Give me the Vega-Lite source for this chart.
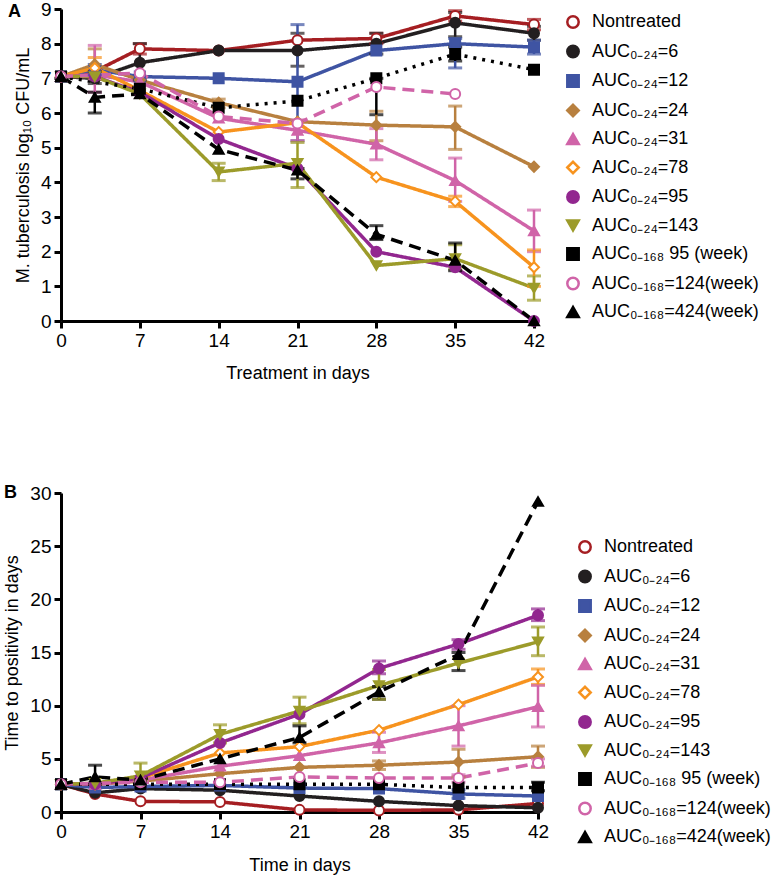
{
  "$schema": "https://vega.github.io/schema/vega-lite/v6.json",
  "padding": {"left": 3, "top": 0, "right": 3, "bottom": 3},
  "background": "white",
  "config": {
    "font": "Liberation Sans",
    "view": {"stroke": null},
    "axis": {"domainColor": "black", "domainWidth": 3, "tickColor": "black", "tickWidth": 3, "tickSize": 7, "labelFontSize": 19, "labelColor": "black", "labelPadding": 3, "labelOverlap": false, "titleFontSize": 18, "titleFontWeight": "normal", "titleColor": "black", "grid": false, "labelFlush": false},
    "axisY": {"titlePadding": 8},
    "legend": {"symbolStrokeWidth": 2.5, "labelFontSize": 18, "labelColor": "black", "rowPadding": 7.5, "labelOffset": 10, "symbolSize": 130, "padding": 0, "labelLimit": 300}
  },
  "datasets": {
    "a": [
      {"g":"Nontreated","day":0,"v":7.05},{"g":"Nontreated","day":3,"v":7.2},{"g":"Nontreated","day":7,"v":7.85},{"g":"Nontreated","day":14,"v":7.8},{"g":"Nontreated","day":21,"v":8.1},{"g":"Nontreated","day":28,"v":8.15},{"g":"Nontreated","day":35,"v":8.8},{"g":"Nontreated","day":42,"v":8.55},
      {"g":"AUC₀₋₂₄=6","day":0,"v":7.05},{"g":"AUC₀₋₂₄=6","day":3,"v":7.0},{"g":"AUC₀₋₂₄=6","day":7,"v":7.45},{"g":"AUC₀₋₂₄=6","day":14,"v":7.8},{"g":"AUC₀₋₂₄=6","day":21,"v":7.8},{"g":"AUC₀₋₂₄=6","day":28,"v":8.0},{"g":"AUC₀₋₂₄=6","day":35,"v":8.6},{"g":"AUC₀₋₂₄=6","day":42,"v":8.3},
      {"g":"AUC₀₋₂₄=12","day":0,"v":7.05},{"g":"AUC₀₋₂₄=12","day":3,"v":7.25},{"g":"AUC₀₋₂₄=12","day":7,"v":7.05},{"g":"AUC₀₋₂₄=12","day":14,"v":7.0},{"g":"AUC₀₋₂₄=12","day":21,"v":6.9},{"g":"AUC₀₋₂₄=12","day":28,"v":7.8},{"g":"AUC₀₋₂₄=12","day":35,"v":8.0},{"g":"AUC₀₋₂₄=12","day":42,"v":7.9},
      {"g":"AUC₀₋₂₄=24","day":0,"v":7.05},{"g":"AUC₀₋₂₄=24","day":3,"v":7.4},{"g":"AUC₀₋₂₄=24","day":7,"v":6.95},{"g":"AUC₀₋₂₄=24","day":14,"v":6.3},{"g":"AUC₀₋₂₄=24","day":21,"v":5.75},{"g":"AUC₀₋₂₄=24","day":28,"v":5.65},{"g":"AUC₀₋₂₄=24","day":35,"v":5.6},{"g":"AUC₀₋₂₄=24","day":42,"v":4.45},
      {"g":"AUC₀₋₂₄=31","day":0,"v":7.05},{"g":"AUC₀₋₂₄=31","day":3,"v":7.1},{"g":"AUC₀₋₂₄=31","day":7,"v":6.9},{"g":"AUC₀₋₂₄=31","day":14,"v":5.85},{"g":"AUC₀₋₂₄=31","day":21,"v":5.5},{"g":"AUC₀₋₂₄=31","day":28,"v":5.1},{"g":"AUC₀₋₂₄=31","day":35,"v":4.05},{"g":"AUC₀₋₂₄=31","day":42,"v":2.6},
      {"g":"AUC₀₋₂₄=78","day":0,"v":7.05},{"g":"AUC₀₋₂₄=78","day":3,"v":7.3},{"g":"AUC₀₋₂₄=78","day":7,"v":6.65},{"g":"AUC₀₋₂₄=78","day":14,"v":5.45},{"g":"AUC₀₋₂₄=78","day":21,"v":5.72},{"g":"AUC₀₋₂₄=78","day":28,"v":4.15},{"g":"AUC₀₋₂₄=78","day":35,"v":3.45},{"g":"AUC₀₋₂₄=78","day":42,"v":1.55},
      {"g":"AUC₀₋₂₄=95","day":0,"v":7.05},{"g":"AUC₀₋₂₄=95","day":3,"v":7.05},{"g":"AUC₀₋₂₄=95","day":7,"v":6.6},{"g":"AUC₀₋₂₄=95","day":14,"v":5.25},{"g":"AUC₀₋₂₄=95","day":21,"v":4.4},{"g":"AUC₀₋₂₄=95","day":28,"v":2.0},{"g":"AUC₀₋₂₄=95","day":35,"v":1.55},{"g":"AUC₀₋₂₄=95","day":42,"v":0.0},
      {"g":"AUC₀₋₂₄=143","day":0,"v":7.05},{"g":"AUC₀₋₂₄=143","day":3,"v":7.05},{"g":"AUC₀₋₂₄=143","day":7,"v":6.55},{"g":"AUC₀₋₂₄=143","day":14,"v":4.3},{"g":"AUC₀₋₂₄=143","day":21,"v":4.55},{"g":"AUC₀₋₂₄=143","day":28,"v":1.6},{"g":"AUC₀₋₂₄=143","day":35,"v":1.8},{"g":"AUC₀₋₂₄=143","day":42,"v":0.95},
      {"g":"AUC₀₋₁₆₈ 95 (week)","day":0,"v":7.05},{"g":"AUC₀₋₁₆₈ 95 (week)","day":7,"v":6.7},{"g":"AUC₀₋₁₆₈ 95 (week)","day":14,"v":6.15},{"g":"AUC₀₋₁₆₈ 95 (week)","day":21,"v":6.35},{"g":"AUC₀₋₁₆₈ 95 (week)","day":28,"v":7.0},{"g":"AUC₀₋₁₆₈ 95 (week)","day":35,"v":7.7},{"g":"AUC₀₋₁₆₈ 95 (week)","day":42,"v":7.25},
      {"g":"AUC₀₋₁₆₈=124(week)","day":0,"v":7.05},{"g":"AUC₀₋₁₆₈=124(week)","day":7,"v":7.15},{"g":"AUC₀₋₁₆₈=124(week)","day":14,"v":5.9},{"g":"AUC₀₋₁₆₈=124(week)","day":21,"v":5.7},{"g":"AUC₀₋₁₆₈=124(week)","day":28,"v":6.75},{"g":"AUC₀₋₁₆₈=124(week)","day":35,"v":6.55},
      {"g":"AUC₀₋₁₆₈=424(week)","day":0,"v":7.05},{"g":"AUC₀₋₁₆₈=424(week)","day":3,"v":6.45},{"g":"AUC₀₋₁₆₈=424(week)","day":7,"v":6.55},{"g":"AUC₀₋₁₆₈=424(week)","day":14,"v":4.95},{"g":"AUC₀₋₁₆₈=424(week)","day":21,"v":4.35},{"g":"AUC₀₋₁₆₈=424(week)","day":28,"v":2.5},{"g":"AUC₀₋₁₆₈=424(week)","day":35,"v":1.75},{"g":"AUC₀₋₁₆₈=424(week)","day":42,"v":0.0}
    ],
    "aErr": [
      {"g":"Nontreated","day":7,"lo":7.7,"hi":8.0},{"g":"Nontreated","day":28,"lo":8.0,"hi":8.3},{"g":"Nontreated","day":35,"lo":8.65,"hi":8.95},{"g":"Nontreated","day":42,"lo":8.4,"hi":8.7},
      {"g":"AUC₀₋₂₄=6","day":3,"lo":6.85,"hi":7.2},{"g":"AUC₀₋₂₄=6","day":7,"lo":6.95,"hi":8.0},{"g":"AUC₀₋₂₄=6","day":21,"lo":7.35,"hi":8.3},{"g":"AUC₀₋₂₄=6","day":28,"lo":7.7,"hi":8.3},{"g":"AUC₀₋₂₄=6","day":35,"lo":8.2,"hi":8.9},{"g":"AUC₀₋₂₄=6","day":42,"lo":8.1,"hi":8.5},
      {"g":"AUC₀₋₂₄=12","day":3,"lo":7.1,"hi":7.4},{"g":"AUC₀₋₂₄=12","day":21,"lo":5.2,"hi":8.55},{"g":"AUC₀₋₂₄=12","day":35,"lo":7.3,"hi":8.15},{"g":"AUC₀₋₂₄=12","day":42,"lo":7.7,"hi":8.1},
      {"g":"AUC₀₋₂₄=24","day":3,"lo":7.0,"hi":7.85},{"g":"AUC₀₋₂₄=24","day":14,"lo":6.15,"hi":6.4},{"g":"AUC₀₋₂₄=24","day":28,"lo":5.2,"hi":6.05},{"g":"AUC₀₋₂₄=24","day":35,"lo":4.95,"hi":6.2},
      {"g":"AUC₀₋₂₄=31","day":3,"lo":6.6,"hi":7.95},{"g":"AUC₀₋₂₄=31","day":21,"lo":5.2,"hi":5.8},{"g":"AUC₀₋₂₄=31","day":28,"lo":4.65,"hi":5.55},{"g":"AUC₀₋₂₄=31","day":35,"lo":3.45,"hi":4.7},{"g":"AUC₀₋₂₄=31","day":42,"lo":2.0,"hi":3.2},
      {"g":"AUC₀₋₂₄=78","day":3,"lo":7.2,"hi":7.6},{"g":"AUC₀₋₂₄=78","day":35,"lo":3.3,"hi":3.6},{"g":"AUC₀₋₂₄=78","day":42,"lo":1.0,"hi":2.05},
      {"g":"AUC₀₋₂₄=143","day":14,"lo":4.05,"hi":4.55},{"g":"AUC₀₋₂₄=143","day":21,"lo":3.85,"hi":5.15},{"g":"AUC₀₋₂₄=143","day":35,"lo":1.5,"hi":2.2},{"g":"AUC₀₋₂₄=143","day":42,"lo":0.6,"hi":1.3},
      {"g":"AUC₀₋₁₆₈ 95 (week)","day":28,"lo":5.95,"hi":7.0},{"g":"AUC₀₋₁₆₈ 95 (week)","day":35,"lo":7.5,"hi":7.9},
      {"g":"AUC₀₋₁₆₈=424(week)","day":3,"lo":6.0,"hi":6.6},{"g":"AUC₀₋₁₆₈=424(week)","day":21,"lo":4.1,"hi":4.4},{"g":"AUC₀₋₁₆₈=424(week)","day":28,"lo":2.35,"hi":2.75},{"g":"AUC₀₋₁₆₈=424(week)","day":35,"lo":1.45,"hi":2.25}
    ],
    "b": [
      {"g":"Nontreated","day":0,"v":2.6},{"g":"Nontreated","day":3,"v":1.7},{"g":"Nontreated","day":7,"v":1.0},{"g":"Nontreated","day":14,"v":0.95},{"g":"Nontreated","day":21,"v":0.2},{"g":"Nontreated","day":28,"v":0.15},{"g":"Nontreated","day":35,"v":0.2},{"g":"Nontreated","day":42,"v":0.8},
      {"g":"AUC₀₋₂₄=6","day":0,"v":2.6},{"g":"AUC₀₋₂₄=6","day":3,"v":1.8},{"g":"AUC₀₋₂₄=6","day":7,"v":2.2},{"g":"AUC₀₋₂₄=6","day":14,"v":2.05},{"g":"AUC₀₋₂₄=6","day":21,"v":1.5},{"g":"AUC₀₋₂₄=6","day":28,"v":1.0},{"g":"AUC₀₋₂₄=6","day":35,"v":0.6},{"g":"AUC₀₋₂₄=6","day":42,"v":0.4},
      {"g":"AUC₀₋₂₄=12","day":0,"v":2.6},{"g":"AUC₀₋₂₄=12","day":3,"v":2.3},{"g":"AUC₀₋₂₄=12","day":7,"v":2.4},{"g":"AUC₀₋₂₄=12","day":14,"v":2.5},{"g":"AUC₀₋₂₄=12","day":21,"v":2.25},{"g":"AUC₀₋₂₄=12","day":28,"v":2.2},{"g":"AUC₀₋₂₄=12","day":35,"v":1.7},{"g":"AUC₀₋₂₄=12","day":42,"v":1.5},
      {"g":"AUC₀₋₂₄=24","day":0,"v":2.6},{"g":"AUC₀₋₂₄=24","day":3,"v":2.6},{"g":"AUC₀₋₂₄=24","day":7,"v":2.9},{"g":"AUC₀₋₂₄=24","day":14,"v":3.6},{"g":"AUC₀₋₂₄=24","day":21,"v":4.2},{"g":"AUC₀₋₂₄=24","day":28,"v":4.4},{"g":"AUC₀₋₂₄=24","day":35,"v":4.7},{"g":"AUC₀₋₂₄=24","day":42,"v":5.2},
      {"g":"AUC₀₋₂₄=31","day":0,"v":2.6},{"g":"AUC₀₋₂₄=31","day":3,"v":2.6},{"g":"AUC₀₋₂₄=31","day":7,"v":3.0},{"g":"AUC₀₋₂₄=31","day":14,"v":4.3},{"g":"AUC₀₋₂₄=31","day":21,"v":5.3},{"g":"AUC₀₋₂₄=31","day":28,"v":6.5},{"g":"AUC₀₋₂₄=31","day":35,"v":8.1},{"g":"AUC₀₋₂₄=31","day":42,"v":9.9},
      {"g":"AUC₀₋₂₄=78","day":0,"v":2.6},{"g":"AUC₀₋₂₄=78","day":3,"v":2.6},{"g":"AUC₀₋₂₄=78","day":7,"v":3.2},{"g":"AUC₀₋₂₄=78","day":14,"v":5.55},{"g":"AUC₀₋₂₄=78","day":21,"v":6.15},{"g":"AUC₀₋₂₄=78","day":28,"v":7.7},{"g":"AUC₀₋₂₄=78","day":35,"v":10.1},{"g":"AUC₀₋₂₄=78","day":42,"v":12.7},
      {"g":"AUC₀₋₂₄=95","day":0,"v":2.6},{"g":"AUC₀₋₂₄=95","day":3,"v":2.6},{"g":"AUC₀₋₂₄=95","day":7,"v":3.2},{"g":"AUC₀₋₂₄=95","day":14,"v":6.5},{"g":"AUC₀₋₂₄=95","day":21,"v":9.2},{"g":"AUC₀₋₂₄=95","day":28,"v":13.5},{"g":"AUC₀₋₂₄=95","day":35,"v":15.8},{"g":"AUC₀₋₂₄=95","day":42,"v":18.5},
      {"g":"AUC₀₋₂₄=143","day":0,"v":2.6},{"g":"AUC₀₋₂₄=143","day":3,"v":2.7},{"g":"AUC₀₋₂₄=143","day":7,"v":3.4},{"g":"AUC₀₋₂₄=143","day":14,"v":7.3},{"g":"AUC₀₋₂₄=143","day":21,"v":9.5},{"g":"AUC₀₋₂₄=143","day":28,"v":11.9},{"g":"AUC₀₋₂₄=143","day":35,"v":14.0},{"g":"AUC₀₋₂₄=143","day":42,"v":16.0},
      {"g":"AUC₀₋₁₆₈ 95 (week)","day":0,"v":2.6},{"g":"AUC₀₋₁₆₈ 95 (week)","day":7,"v":2.6},{"g":"AUC₀₋₁₆₈ 95 (week)","day":14,"v":2.6},{"g":"AUC₀₋₁₆₈ 95 (week)","day":21,"v":2.6},{"g":"AUC₀₋₁₆₈ 95 (week)","day":28,"v":2.6},{"g":"AUC₀₋₁₆₈ 95 (week)","day":35,"v":2.3},{"g":"AUC₀₋₁₆₈ 95 (week)","day":42,"v":2.3},
      {"g":"AUC₀₋₁₆₈=124(week)","day":0,"v":2.6},{"g":"AUC₀₋₁₆₈=124(week)","day":7,"v":2.8},{"g":"AUC₀₋₁₆₈=124(week)","day":14,"v":2.8},{"g":"AUC₀₋₁₆₈=124(week)","day":21,"v":3.3},{"g":"AUC₀₋₁₆₈=124(week)","day":28,"v":3.2},{"g":"AUC₀₋₁₆₈=124(week)","day":35,"v":3.2},{"g":"AUC₀₋₁₆₈=124(week)","day":42,"v":4.6},
      {"g":"AUC₀₋₁₆₈=424(week)","day":0,"v":2.6},{"g":"AUC₀₋₁₆₈=424(week)","day":3,"v":3.3},{"g":"AUC₀₋₁₆₈=424(week)","day":7,"v":3.0},{"g":"AUC₀₋₁₆₈=424(week)","day":14,"v":5.0},{"g":"AUC₀₋₁₆₈=424(week)","day":21,"v":7.0},{"g":"AUC₀₋₁₆₈=424(week)","day":28,"v":11.3},{"g":"AUC₀₋₁₆₈=424(week)","day":35,"v":14.8},{"g":"AUC₀₋₁₆₈=424(week)","day":42,"v":29.2}
    ],
    "bErr": [
      {"g":"AUC₀₋₁₆₈=424(week)","day":3,"lo":2.6,"hi":4.4},{"g":"AUC₀₋₁₆₈=424(week)","day":21,"lo":6.5,"hi":8.1},{"g":"AUC₀₋₁₆₈=424(week)","day":28,"lo":10.6,"hi":11.8},{"g":"AUC₀₋₁₆₈=424(week)","day":35,"lo":13.3,"hi":15.0},
      {"g":"AUC₀₋₂₄=143","day":7,"lo":3.0,"hi":4.6},{"g":"AUC₀₋₂₄=143","day":14,"lo":6.5,"hi":8.2},{"g":"AUC₀₋₂₄=143","day":21,"lo":8.3,"hi":10.8},{"g":"AUC₀₋₂₄=143","day":28,"lo":10.6,"hi":13.4},{"g":"AUC₀₋₂₄=143","day":42,"lo":14.7,"hi":17.4},
      {"g":"AUC₀₋₂₄=95","day":28,"lo":13.0,"hi":14.2},{"g":"AUC₀₋₂₄=95","day":35,"lo":15.3,"hi":16.2},{"g":"AUC₀₋₂₄=95","day":42,"lo":18.0,"hi":19.1},
      {"g":"AUC₀₋₂₄=78","day":42,"lo":12.0,"hi":13.45},
      {"g":"AUC₀₋₂₄=31","day":28,"lo":5.6,"hi":7.5},{"g":"AUC₀₋₂₄=31","day":35,"lo":6.2,"hi":10.0},{"g":"AUC₀₋₂₄=31","day":42,"lo":8.0,"hi":11.9},
      {"g":"AUC₀₋₂₄=24","day":28,"lo":4.0,"hi":4.8},{"g":"AUC₀₋₂₄=24","day":35,"lo":3.3,"hi":5.9},{"g":"AUC₀₋₂₄=24","day":42,"lo":4.2,"hi":6.2},
      {"g":"AUC₀₋₁₆₈=124(week)","day":35,"lo":2.8,"hi":3.5},{"g":"AUC₀₋₁₆₈=124(week)","day":42,"lo":4.3,"hi":5.0},
      {"g":"AUC₀₋₁₆₈ 95 (week)","day":42,"lo":2.0,"hi":2.8},
      {"g":"AUC₀₋₂₄=12","day":35,"lo":1.3,"hi":2.1}
    ]
  },
  "spacing": 102,
  "resolve": {
    "scale": {"stroke": "independent", "fill": "independent", "shape": "independent", "strokeDash": "independent", "color": "independent", "x": "independent", "y": "independent"},
    "legend": {"stroke": "independent", "fill": "independent", "shape": "independent"}
  },
  "vconcat": [
    {
      "width": 473,
      "height": 312,
      "title": {"text": "A", "anchor": "start", "frame": "group", "orient": "top", "fontSize": 18, "fontWeight": "bold", "color": "black", "baseline": "top", "offset": -21, "dx": -53},
      "layer": [
        {
          "data": {"name": "a"},
          "mark": {"type": "line", "strokeWidth": 3.5},
          "encoding": {
            "x": {"field": "day", "type": "quantitative", "scale": {"domain": [0, 42], "nice": false}, "axis": {"values": [0, 7, 14, 21, 28, 35, 42], "title": "Treatment in days", "titlePadding": 14, "labelOverlap": false}},
            "y": {"field": "v", "type": "quantitative", "scale": {"domain": [0, 9], "nice": false}, "axis": {"values": [0, 1, 2, 3, 4, 5, 6, 7, 8, 9], "title": "M. tuberculosis log₁₀ CFU/mL", "labelOverlap": false}},
            "color": {"field": "g", "type": "nominal", "legend": null, "scale": {"domain": ["AUC₀₋₁₆₈=424(week)","AUC₀₋₁₆₈=124(week)","AUC₀₋₁₆₈ 95 (week)","AUC₀₋₂₄=143","AUC₀₋₂₄=95","AUC₀₋₂₄=78","AUC₀₋₂₄=31","AUC₀₋₂₄=24","AUC₀₋₂₄=12","AUC₀₋₂₄=6","Nontreated"], "range": ["#000000","#d064a8","#000000","#9c9b2a","#92278f","#f7931e","#d064a8","#b8803f","#3f54a3","#231f20","#a51e22"]}},
            "strokeDash": {"field": "g", "type": "nominal", "legend": null, "scale": {"domain": ["AUC₀₋₂₄=6","Nontreated","AUC₀₋₂₄=12","AUC₀₋₂₄=24","AUC₀₋₂₄=31","AUC₀₋₂₄=78","AUC₀₋₂₄=95","AUC₀₋₂₄=143","AUC₀₋₁₆₈ 95 (week)","AUC₀₋₁₆₈=124(week)","AUC₀₋₁₆₈=424(week)"], "range": [[1,0],[1,0],[1,0],[1,0],[1,0],[1,0],[1,0],[1,0],[3,6],[12,7],[12,7]]}}
          }
        },
        {
          "data": {"name": "aErr"},
          "mark": {"type": "errorbar", "thickness": 2.5, "ticks": {"size": 14, "thickness": 3}},
          "encoding": {
            "x": {"field": "day", "type": "quantitative", "axis": {"values": [0, 7, 14, 21, 28, 35, 42], "title": "Treatment in days", "titlePadding": 14, "labelOverlap": false}},
            "y": {"field": "lo", "type": "quantitative", "axis": {"values": [0, 1, 2, 3, 4, 5, 6, 7, 8, 9], "title": "M. tuberculosis log₁₀ CFU/mL", "labelOverlap": false}},
            "y2": {"field": "hi"},
            "color": {"field": "g", "type": "nominal", "legend": null, "scale": {"domain": ["AUC₀₋₁₆₈=424(week)","AUC₀₋₁₆₈=124(week)","AUC₀₋₁₆₈ 95 (week)","AUC₀₋₂₄=143","AUC₀₋₂₄=95","AUC₀₋₂₄=78","AUC₀₋₂₄=31","AUC₀₋₂₄=24","AUC₀₋₂₄=12","AUC₀₋₂₄=6","Nontreated"], "range": ["#000000","#d064a8","#000000","#9c9b2a","#92278f","#f7931e","#d064a8","#b8803f","#3f54a3","#231f20","#a51e22"]}}
          }
        },
        {
          "data": {"name": "a"},
          "mark": {"type": "point", "filled": true, "size": 100, "strokeWidth": 2, "opacity": 1},
          "encoding": {
            "x": {"field": "day", "type": "quantitative", "axis": {"values": [0, 7, 14, 21, 28, 35, 42], "title": "Treatment in days", "titlePadding": 14, "labelOverlap": false}},
            "y": {"field": "v", "type": "quantitative", "axis": {"values": [0, 1, 2, 3, 4, 5, 6, 7, 8, 9], "title": "M. tuberculosis log₁₀ CFU/mL", "labelOverlap": false}},
            "stroke": {"field": "g", "type": "nominal", "legend": {"title": null, "orient": "none", "legendX": 503, "legendY": 4}, "scale": {"domain": ["Nontreated","AUC₀₋₂₄=6","AUC₀₋₂₄=12","AUC₀₋₂₄=24","AUC₀₋₂₄=31","AUC₀₋₂₄=78","AUC₀₋₂₄=95","AUC₀₋₂₄=143","AUC₀₋₁₆₈ 95 (week)","AUC₀₋₁₆₈=124(week)","AUC₀₋₁₆₈=424(week)"], "range": ["#a51e22","#231f20","#3f54a3","#b8803f","#d064a8","#f7931e","#92278f","#9c9b2a","#000000","#d064a8","#000000"]}},
            "fill": {"field": "g", "type": "nominal", "legend": {"title": null, "orient": "none", "legendX": 503, "legendY": 4}, "scale": {"domain": ["Nontreated","AUC₀₋₂₄=6","AUC₀₋₂₄=12","AUC₀₋₂₄=24","AUC₀₋₂₄=31","AUC₀₋₂₄=78","AUC₀₋₂₄=95","AUC₀₋₂₄=143","AUC₀₋₁₆₈ 95 (week)","AUC₀₋₁₆₈=124(week)","AUC₀₋₁₆₈=424(week)"], "range": ["#ffffff","#231f20","#3f54a3","#b8803f","#d064a8","#ffffff","#92278f","#9c9b2a","#000000","#ffffff","#000000"]}},
            "shape": {"field": "g", "type": "nominal", "legend": {"title": null, "orient": "none", "legendX": 503, "legendY": 4}, "scale": {"domain": ["Nontreated","AUC₀₋₂₄=6","AUC₀₋₂₄=12","AUC₀₋₂₄=24","AUC₀₋₂₄=31","AUC₀₋₂₄=78","AUC₀₋₂₄=95","AUC₀₋₂₄=143","AUC₀₋₁₆₈ 95 (week)","AUC₀₋₁₆₈=124(week)","AUC₀₋₁₆₈=424(week)"], "range": ["circle","circle","square","diamond","triangle-up","diamond","circle","triangle-down","square","circle","triangle-up"]}}
          }
        }
      ]
    },
    {
      "width": 477,
      "height": 319,
      "title": {"text": "B", "anchor": "start", "frame": "group", "orient": "top", "fontSize": 18, "fontWeight": "bold", "color": "black", "baseline": "top", "offset": -18, "dx": -57},
      "layer": [
        {
          "data": {"name": "b"},
          "mark": {"type": "line", "strokeWidth": 3.5},
          "encoding": {
            "x": {"field": "day", "type": "quantitative", "scale": {"domain": [0, 42], "nice": false}, "axis": {"values": [0, 7, 14, 21, 28, 35, 42], "title": "Time in days", "titlePadding": 15, "labelOverlap": false}},
            "y": {"field": "v", "type": "quantitative", "scale": {"domain": [0, 30], "nice": false}, "axis": {"values": [0, 5, 10, 15, 20, 25, 30], "title": "Time to positivity in days", "labelOverlap": false}},
            "color": {"field": "g", "type": "nominal", "legend": null, "scale": {"domain": ["AUC₀₋₁₆₈=424(week)","AUC₀₋₁₆₈=124(week)","AUC₀₋₁₆₈ 95 (week)","AUC₀₋₂₄=143","AUC₀₋₂₄=95","AUC₀₋₂₄=78","AUC₀₋₂₄=31","AUC₀₋₂₄=24","AUC₀₋₂₄=12","AUC₀₋₂₄=6","Nontreated"], "range": ["#000000","#d064a8","#000000","#9c9b2a","#92278f","#f7931e","#d064a8","#b8803f","#3f54a3","#231f20","#a51e22"]}},
            "strokeDash": {"field": "g", "type": "nominal", "legend": null, "scale": {"domain": ["AUC₀₋₂₄=6","Nontreated","AUC₀₋₂₄=12","AUC₀₋₂₄=24","AUC₀₋₂₄=31","AUC₀₋₂₄=78","AUC₀₋₂₄=95","AUC₀₋₂₄=143","AUC₀₋₁₆₈ 95 (week)","AUC₀₋₁₆₈=124(week)","AUC₀₋₁₆₈=424(week)"], "range": [[1,0],[1,0],[1,0],[1,0],[1,0],[1,0],[1,0],[1,0],[3,6],[12,7],[12,7]]}}
          }
        },
        {
          "data": {"name": "bErr"},
          "mark": {"type": "errorbar", "thickness": 2.5, "ticks": {"size": 14, "thickness": 3}},
          "encoding": {
            "x": {"field": "day", "type": "quantitative", "axis": {"values": [0, 7, 14, 21, 28, 35, 42], "title": "Time in days", "titlePadding": 15, "labelOverlap": false}},
            "y": {"field": "lo", "type": "quantitative", "axis": {"values": [0, 5, 10, 15, 20, 25, 30], "title": "Time to positivity in days", "labelOverlap": false}},
            "y2": {"field": "hi"},
            "color": {"field": "g", "type": "nominal", "legend": null, "scale": {"domain": ["AUC₀₋₁₆₈=424(week)","AUC₀₋₁₆₈=124(week)","AUC₀₋₁₆₈ 95 (week)","AUC₀₋₂₄=143","AUC₀₋₂₄=95","AUC₀₋₂₄=78","AUC₀₋₂₄=31","AUC₀₋₂₄=24","AUC₀₋₂₄=12","AUC₀₋₂₄=6","Nontreated"], "range": ["#000000","#d064a8","#000000","#9c9b2a","#92278f","#f7931e","#d064a8","#b8803f","#3f54a3","#231f20","#a51e22"]}}
          }
        },
        {
          "data": {"name": "b"},
          "mark": {"type": "point", "filled": true, "size": 100, "strokeWidth": 2, "opacity": 1},
          "encoding": {
            "x": {"field": "day", "type": "quantitative", "axis": {"values": [0, 7, 14, 21, 28, 35, 42], "title": "Time in days", "titlePadding": 15, "labelOverlap": false}},
            "y": {"field": "v", "type": "quantitative", "axis": {"values": [0, 5, 10, 15, 20, 25, 30], "title": "Time to positivity in days", "labelOverlap": false}},
            "stroke": {"field": "g", "type": "nominal", "legend": {"title": null, "orient": "none", "legendX": 515, "legendY": 45}, "scale": {"domain": ["Nontreated","AUC₀₋₂₄=6","AUC₀₋₂₄=12","AUC₀₋₂₄=24","AUC₀₋₂₄=31","AUC₀₋₂₄=78","AUC₀₋₂₄=95","AUC₀₋₂₄=143","AUC₀₋₁₆₈ 95 (week)","AUC₀₋₁₆₈=124(week)","AUC₀₋₁₆₈=424(week)"], "range": ["#a51e22","#231f20","#3f54a3","#b8803f","#d064a8","#f7931e","#92278f","#9c9b2a","#000000","#d064a8","#000000"]}},
            "fill": {"field": "g", "type": "nominal", "legend": {"title": null, "orient": "none", "legendX": 515, "legendY": 45}, "scale": {"domain": ["Nontreated","AUC₀₋₂₄=6","AUC₀₋₂₄=12","AUC₀₋₂₄=24","AUC₀₋₂₄=31","AUC₀₋₂₄=78","AUC₀₋₂₄=95","AUC₀₋₂₄=143","AUC₀₋₁₆₈ 95 (week)","AUC₀₋₁₆₈=124(week)","AUC₀₋₁₆₈=424(week)"], "range": ["#ffffff","#231f20","#3f54a3","#b8803f","#d064a8","#ffffff","#92278f","#9c9b2a","#000000","#ffffff","#000000"]}},
            "shape": {"field": "g", "type": "nominal", "legend": {"title": null, "orient": "none", "legendX": 515, "legendY": 45}, "scale": {"domain": ["Nontreated","AUC₀₋₂₄=6","AUC₀₋₂₄=12","AUC₀₋₂₄=24","AUC₀₋₂₄=31","AUC₀₋₂₄=78","AUC₀₋₂₄=95","AUC₀₋₂₄=143","AUC₀₋₁₆₈ 95 (week)","AUC₀₋₁₆₈=124(week)","AUC₀₋₁₆₈=424(week)"], "range": ["circle","circle","square","diamond","triangle-up","diamond","circle","triangle-down","square","circle","triangle-up"]}}
          }
        }
      ]
    }
  ]
}
